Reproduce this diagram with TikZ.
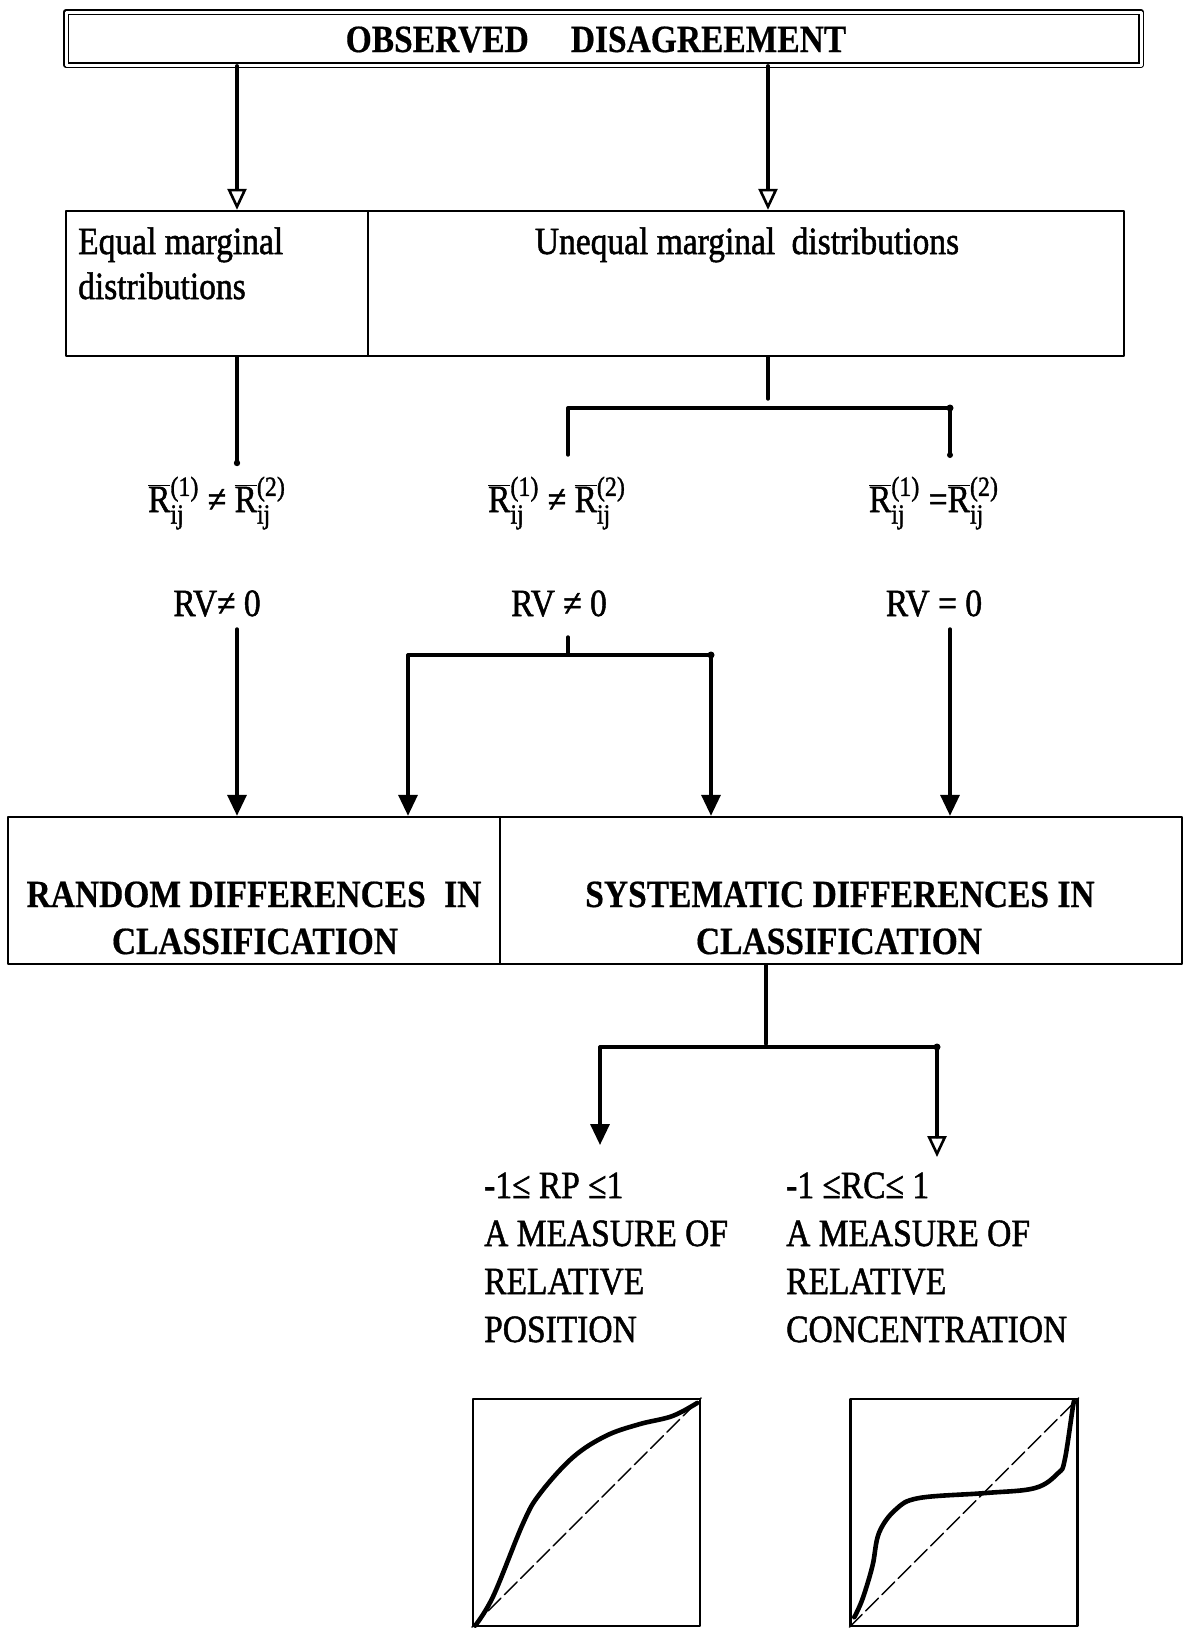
\documentclass[tikz,border=0pt]{standalone}
\usepackage{fontspec}
\setmainfont{Liberation Serif}[FakeBold=0.5]
\newfontfamily\rgfont{Liberation Serif}[FakeBold=1.4]
\usepackage{graphicx}
\usetikzlibrary{arrows.meta}
\newcommand{\fs}{\fontsize{33.5}{40}\selectfont}
\newcommand{\sfs}{\fontsize{24}{24}\selectfont}
\newcommand{\vs}[1]{\scalebox{1}[1.15]{#1}}
\newcommand{\Rb}[1]{$\overline{\hbox{R}}$\makebox[29pt][l]{\rlap{\raisebox{0.42em}{\sfs(#1)}}\raisebox{-0.3em}{\sfs ij}}}
\begin{document}
\begin{tikzpicture}[x=1pt, y=-1pt, line cap=round, line join=round,
  box/.style={draw, line width=2.4pt, inner sep=0pt},
  conn/.style={line width=3.4pt},
  arr/.style={conn, -{Triangle[width=19pt,length=21pt]}},
  oarr/.style={conn, -{Triangle[open, width=19pt,length=21pt, line width=2.6pt]}},
  txt/.style={inner sep=0pt, font=\fs\rgfont},
  btxt/.style={inner sep=0pt, font=\fs\bfseries},
  dotc/.style={fill=black},
  curve/.style={line width=4.6pt},
  diag/.style={line width=1.4pt, dash pattern=on 18pt off 5pt}]
\useasboundingbox (0,0) rectangle (1184,1631);

% x positions of the connectors
\coordinate (xa) at (237,0);
\coordinate (xb) at (768,0);
\coordinate (xc) at (568,0);
\coordinate (xd) at (950,0);
\coordinate (xe) at (408,0);
\coordinate (xf) at (711,0);
\coordinate (xg) at (766,0);
\coordinate (xh) at (600,0);
\coordinate (xi) at (937,0);

% ---------- top box ----------
\node[box, line width=1.6pt, double, double distance=3pt,
      minimum width=1075pt, minimum height=53pt] (obs) at (603.5,38.5) {};
\node[btxt, anchor=base] (obsT) at (596,52) {\vs{OBSERVED\hspace{42pt}DISAGREEMENT}};

% ---------- middle boxes ----------
\node[box, minimum width=302pt, minimum height=145pt] (eq) at (217,283.5) {};
\node[box, minimum width=756pt, minimum height=145pt] (uneq) at (746,283.5) {};
\node[txt, anchor=base west] (eqT1) at (78,254) {\vs{Equal marginal}};
\node[txt, anchor=base west] (eqT2) at (78,299) {\vs{distributions}};
\node[txt, anchor=base] (uneqT) at (747,254) {\vs{Unequal marginal\hspace{8pt} distributions}};

\draw[oarr] (obs.south -| xa) -- (eq.north -| xa);
\draw[oarr] (obs.south -| xb) -- (uneq.north -| xb);

% ---------- conditions ----------
\node[txt, anchor=base] (f1) at (217,512) {\vs{\Rb{1} ≠ \Rb{2}}};
\node[txt, anchor=base] (f2) at (557,512) {\vs{\Rb{1} ≠ \Rb{2}}};
\node[txt, anchor=base] (f3) at (934,512) {\vs{\Rb{1} =\Rb{2}}};
\node[txt, anchor=base] (r1) at (217,616) {\vs{RV≠ 0}};
\node[txt, anchor=base] (r2) at (559,616) {\vs{RV ≠ 0}};
\node[txt, anchor=base] (r3) at (934,616) {\vs{RV = 0}};

% left column
\coordinate (p1) at (237,463);
\draw[conn] (eq.south -| xa) -- (p1);
\fill[dotc] (p1) circle (3.2pt);

% first bracket
\coordinate (b1top) at (768,399);
\coordinate (b1l) at (568,408);
\coordinate (b1r) at (950,408);
\coordinate (b1lb) at (568,455);
\coordinate (b1rb) at (950,455);
\draw[conn] (uneq.south -| xb) -- (b1top);
\draw[conn] (b1lb) -- (b1l) -- (b1r) -- (b1rb);
\fill[dotc] (b1r) circle (3.5pt);
\fill[dotc] (b1rb) circle (3pt);

% ---------- bottom boxes ----------
\node[box, minimum width=492pt, minimum height=147pt] (rnd) at (254,890.5) {};
\node[box, minimum width=682pt, minimum height=147pt] (sys) at (841,890.5) {};
\node[btxt, anchor=base] (rndT1) at (254,907) {\vs{RANDOM DIFFERENCES\hspace{10pt} IN}};
\node[btxt, anchor=base] (rndT2) at (255,954) {\vs{CLASSIFICATION}};
\node[btxt, anchor=base] (sysT1) at (840,907) {\vs{SYSTEMATIC DIFFERENCES IN}};
\node[btxt, anchor=base] (sysT2) at (839,954) {\vs{CLASSIFICATION}};

% connectors into the bottom boxes
\coordinate (p2) at (237,629);
\draw[arr] (p2) -- (rnd.north -| xa);
\coordinate (s2a) at (568,637);
\coordinate (s2b) at (568,653);
\draw[conn] (s2a) -- (s2b);
\coordinate (b2l) at (408,655);
\coordinate (b2r) at (711,655);
\draw[conn] (b2l) -- (b2r);
\fill[dotc] (b2r) circle (3.5pt);
\draw[arr] (b2l) -- (rnd.north -| xe);
\draw[arr] (b2r) -- (sys.north -| xf);
\coordinate (p3) at (950,629);
\draw[arr] (p3) -- (sys.north -| xd);

% third bracket
\coordinate (b3top) at (766,1044);
\coordinate (b3l) at (600,1047);
\coordinate (b3r) at (937,1047);
\draw[conn] (sys.south -| xg) -- (b3top);
\draw[conn] (b3l) -- (b3r);
\fill[dotc] (b3r) circle (3.5pt);

% ---------- measures ----------
\node[txt, anchor=base west] (rp1) at (484,1198) {\vs{-1≤ RP ≤1}};
\node[txt, anchor=base west] (rp2) at (484,1246) {\vs{A MEASURE OF}};
\node[txt, anchor=base west] (rp3) at (484,1294) {\vs{RELATIVE}};
\node[txt, anchor=base west] (rp4) at (484,1342) {\vs{POSITION}};
\node[txt, anchor=base west] (rc1) at (786,1198) {\vs{-1 ≤RC≤ 1}};
\node[txt, anchor=base west] (rc2) at (786,1246) {\vs{A MEASURE OF}};
\node[txt, anchor=base west] (rc3) at (786,1294) {\vs{RELATIVE}};
\node[txt, anchor=base west] (rc4) at (786,1342) {\vs{CONCENTRATION}};

\coordinate (e1) at (600,1145);
\coordinate (e2) at (937,1157);
\draw[arr] (b3l) -- (e1);
\draw[oarr] (b3r) -- (e2);

% ---------- plots ----------
\node[box, minimum width=227pt, minimum height=227pt] (plotP) at (586.5,1512.5) {};
\node[box, minimum width=227pt, minimum height=227pt] (plotC) at (964,1512.5) {};
\draw[diag] (plotP.south west) -- (plotP.north east);
\draw[diag] (plotC.south west) -- (plotC.north east);
\begin{scope}[shift={(plotP.south west)}, x=227pt, y=227pt]
  \draw[curve] plot[smooth, tension=0.6] coordinates {(0.015,0.007) (0.095,0.138) (0.226,0.458) (0.3,0.588) (0.445,0.748) (0.591,0.843) (0.737,0.894) (0.883,0.930) (0.993,0.988)};
\end{scope}
\begin{scope}[shift={(plotC.south west)}, x=227pt, y=227pt]
  \draw[curve] plot[smooth, tension=0.6] coordinates {(0.022,0.044) (0.058,0.124) (0.102,0.27) (0.131,0.416) (0.204,0.518) (0.307,0.569) (0.599,0.591) (0.818,0.613) (0.92,0.679) (0.949,0.737) (0.985,0.971) (0.99,0.99)};
\end{scope}
\end{tikzpicture}
\end{document}
